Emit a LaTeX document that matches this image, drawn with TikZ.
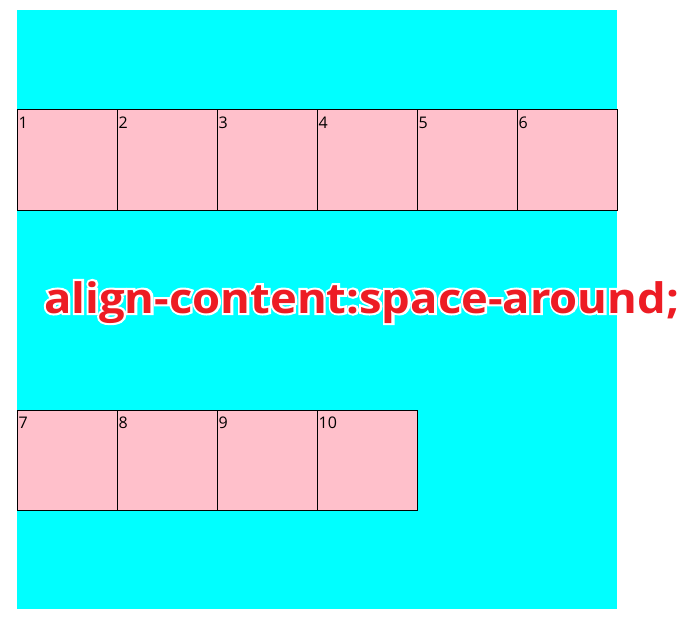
\documentclass[tikz,border=0pt]{standalone}
\usepackage{fontspec}
\setmainfont{Open Sans}
\usetikzlibrary{positioning, calc}

\definecolor{boxpink}{HTML}{FFC0CB}
\definecolor{titlered}{HTML}{ED1C24}
\definecolor{flexcyan}{HTML}{00FFFF}

\tikzset{
  item/.style={draw=black, line width=1pt, fill=boxpink, minimum width=100pt,
    minimum height=100pt, inner sep=0pt, outer sep=0pt},
  itemnum/.style={font=\fontsize{16}{18}\selectfont, inner sep=0pt, anchor=base west},
  titletext/.style={font=\fontsize{42}{46}\selectfont\bfseries, inner sep=0pt,
    anchor=base west, xscale=1.08, transform shape}
}

\begin{document}
\begin{tikzpicture}[x=1pt, y=-1pt]
  \useasboundingbox (0,0) rectangle (692,628);
  \fill[flexcyan] (17,10) rectangle (617,609);

  % first line of the flex container
  \foreach \i in {1,...,6} {
    \node[item] (box\i) at ({17+100*(\i-1)+50}, 160) {};
    \node[itemnum] (num\i) at ($(box\i.north west)+(1.5,18.5)$) {\i};
  }
  % second line
  \foreach \i [evaluate=\i as \k using int(\i-6)] in {7,...,10} {
    \node[item] (box\i) at ({17+100*(\k-1)+50}, 460) {};
    \node[itemnum] (num\i) at ($(box\i.north west)+(1.5,18.5)$) {\i};
  }

  % caption with white outline
  \node[titletext, text=white] (halo) at (44,313)
    {\addfontfeature{FakeBold=10}align-content:space-around;};
  \node[titletext, text=titlered] (title) at (44,313) {align-content:space-around;};
\end{tikzpicture}
\end{document}
